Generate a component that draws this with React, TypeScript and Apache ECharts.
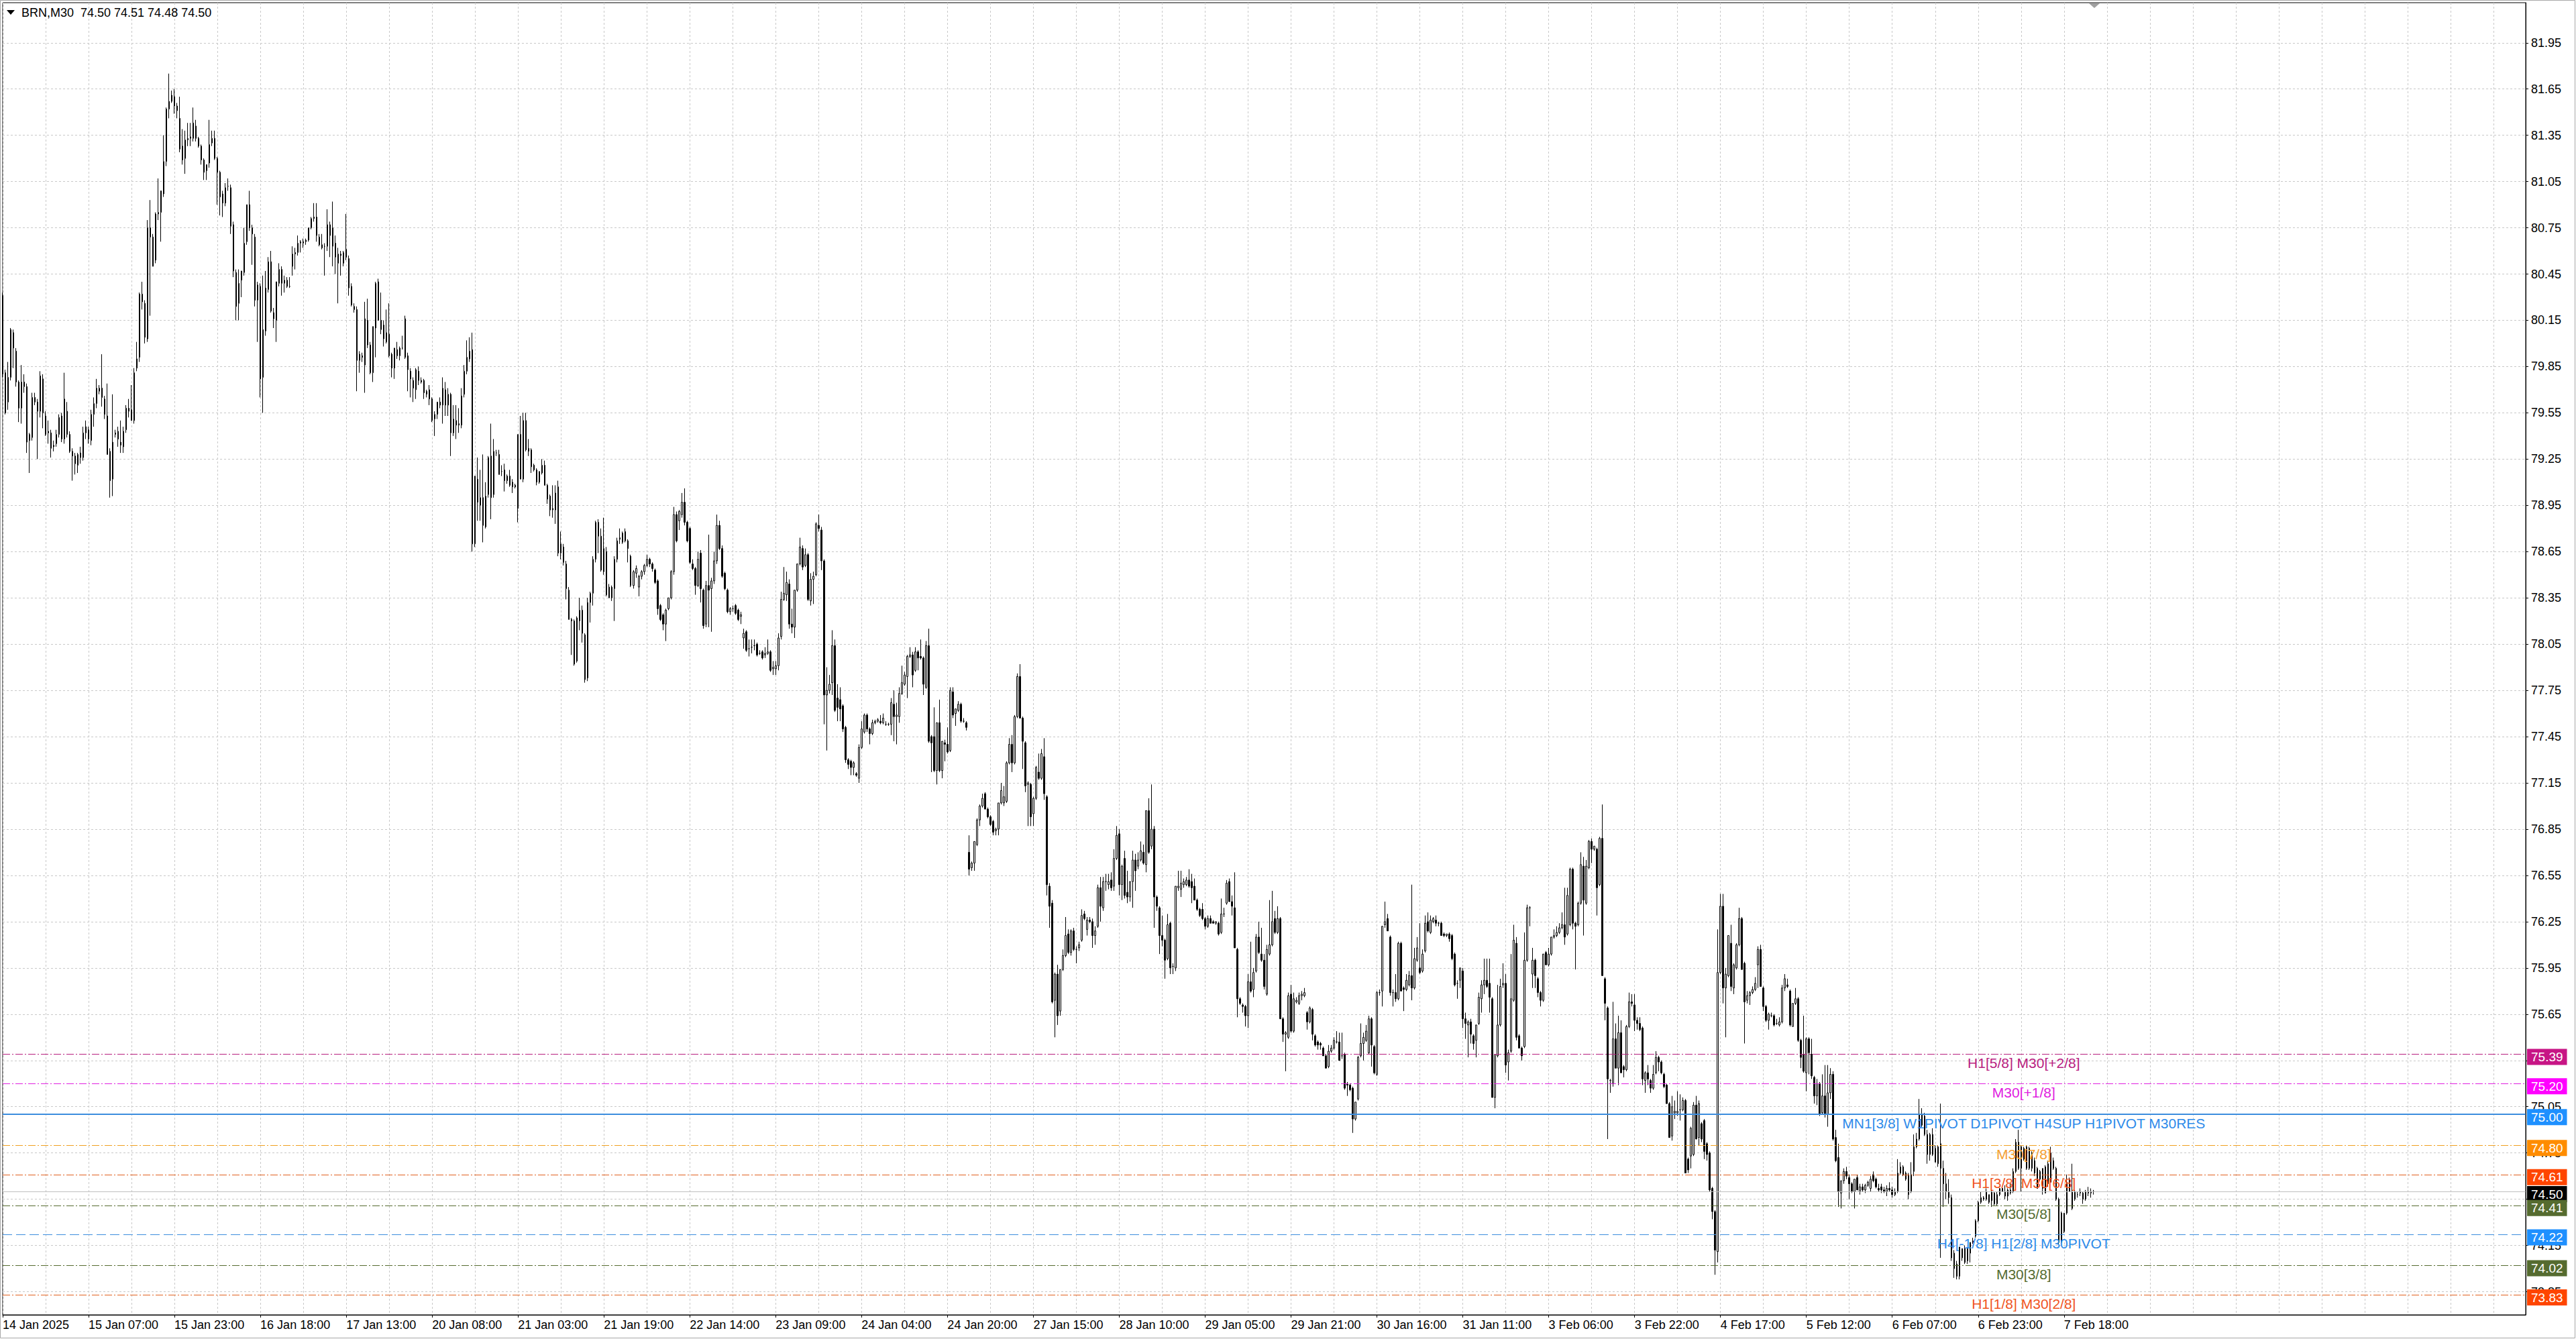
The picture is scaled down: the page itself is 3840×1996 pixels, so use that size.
import React, { useEffect, useRef } from 'react';
import * as echarts from 'echarts';

// ---------- data ----------
const symbolName = 'BRN,M30';

const timeLabels = ['14 Jan 2025', '15 Jan 07:00', '15 Jan 23:00', '16 Jan 18:00', '17 Jan 13:00', '20 Jan 08:00', '21 Jan 03:00', '21 Jan 19:00', '22 Jan 14:00', '23 Jan 09:00', '24 Jan 04:00', '24 Jan 20:00', '27 Jan 15:00', '28 Jan 10:00', '29 Jan 05:00', '29 Jan 21:00', '30 Jan 16:00', '31 Jan 11:00', '3 Feb 06:00', '3 Feb 22:00', '4 Feb 17:00', '5 Feb 12:00', '6 Feb 07:00', '6 Feb 23:00', '7 Feb 18:00'];
const BARS_PER_LABEL = 32;
const SLOT_COUNT = 941;

const priceTicks = [73.85, 74.15, 74.45, 74.75, 75.05, 75.35, 75.65, 75.95, 76.25, 76.55, 76.85, 77.15, 77.45, 77.75, 78.05, 78.35, 78.65, 78.95, 79.25, 79.55, 79.85, 80.15, 80.45, 80.75, 81.05, 81.35, 81.65, 81.95];

// [open, high, low, close] per 30-minute bar
const jan14to17 = [
[80.31,80.33,79.78,79.80],[79.81,79.83,79.54,79.55],[79.62,79.88,79.57,79.78],[79.78,80.10,79.76,80.09],[80.07,80.09,79.84,79.97],
[79.95,79.97,79.72,79.75],[79.75,79.76,79.49,79.58],[79.58,79.86,79.48,79.75],[79.75,79.80,79.68,79.72],[79.72,79.74,79.29,79.36],
[79.37,79.42,79.16,79.41],[79.39,79.68,79.37,79.65],[79.65,79.68,79.60,79.62],[79.62,79.64,79.25,79.56],[79.56,79.82,79.52,79.79],
[79.77,79.80,79.45,79.55],[79.53,79.56,79.40,79.41],[79.43,79.50,79.35,79.42],[79.42,79.44,79.26,79.32],[79.33,79.37,79.30,79.34],
[79.35,79.44,79.33,79.41],[79.41,79.54,79.39,79.52],[79.53,79.55,79.36,79.38],[79.38,79.81,79.35,79.64],[79.56,79.62,79.39,79.41],
[79.41,79.43,79.29,79.30],[79.30,79.32,79.11,79.27],[79.27,79.29,79.15,79.22],[79.21,79.29,79.16,79.28],[79.29,79.33,79.22,79.26],
[79.26,79.46,79.24,79.42],[79.42,79.50,79.38,79.46],[79.44,79.46,79.35,79.38],[79.37,79.57,79.34,79.54],[79.54,79.65,79.46,79.61],
[79.61,79.77,79.58,79.71],[79.69,79.73,79.67,79.71],[79.71,79.93,79.59,79.65],[79.64,79.66,79.51,79.54],[79.53,79.74,79.28,79.28],
[79.30,79.32,79.00,79.11],[79.12,79.67,79.01,79.36],[79.41,79.44,79.39,79.42],[79.43,79.46,79.33,79.38],[79.36,79.50,79.29,79.34],
[79.33,79.46,79.29,79.43],[79.44,79.60,79.42,79.58],[79.58,79.64,79.52,79.56],[79.57,79.73,79.50,79.50],[79.50,79.84,79.48,79.81],
[79.84,80.01,79.82,79.90],[79.91,80.33,79.88,80.32],[80.32,80.40,80.22,80.27],[80.26,80.28,80.00,80.04],[80.03,80.80,80.01,80.75],
[80.75,80.93,80.18,80.69],[80.69,80.71,80.50,80.50],[80.54,80.85,80.52,80.84],[80.84,81.07,80.80,80.85],[80.85,80.99,80.66,80.99],
[80.97,81.35,80.95,81.18],[81.18,81.53,81.15,81.52],[81.52,81.75,81.46,81.57],[81.57,81.64,81.56,81.61],[81.60,81.65,81.49,81.54],
[81.54,81.56,81.46,81.51],[81.46,81.60,81.24,81.26],[81.28,81.39,81.16,81.19],[81.20,81.38,81.10,81.32],[81.32,81.43,81.28,81.33],
[81.33,81.43,81.28,81.34],[81.33,81.53,81.31,81.43],[81.41,81.45,81.31,81.33],[81.33,81.34,81.27,81.28],[81.28,81.29,81.16,81.19],
[81.19,81.20,81.06,81.11],[81.12,81.16,81.06,81.16],[81.17,81.45,81.14,81.29],[81.30,81.38,81.28,81.33],[81.33,81.38,81.19,81.20],
[81.20,81.21,80.90,81.11],[81.11,81.12,80.83,80.95],[80.97,80.99,80.82,80.91],[80.91,81.04,80.89,81.01],[81.02,81.07,80.99,81.02],
[81.01,81.03,80.71,80.76],[80.77,80.79,80.43,80.47],[80.46,80.48,80.15,80.24],[80.26,80.48,80.15,80.39],[80.41,80.47,80.30,80.47],
[80.46,80.75,80.44,80.65],[80.66,80.90,80.64,80.90],[80.90,80.99,80.73,80.75],[80.75,80.77,80.51,80.71],[80.69,80.71,80.24,80.28],
[80.28,80.40,80.01,80.38],[80.37,80.39,79.65,79.77],[79.78,80.44,79.55,80.09],[80.08,80.47,80.05,80.36],[80.35,80.56,80.33,80.53],
[80.53,80.60,80.20,80.21],[80.20,80.23,80.10,80.16],[80.15,80.40,80.01,80.40],[80.39,80.52,80.37,80.48],[80.48,80.50,80.31,80.39],
[80.39,80.44,80.33,80.41],[80.41,80.43,80.36,80.37],[80.37,80.43,80.36,80.37],[80.50,80.63,80.44,80.58],[80.58,80.62,80.48,80.59],
[80.59,80.70,80.57,80.65],[80.65,80.67,80.59,80.66],[80.65,80.68,80.62,80.66],[80.66,80.68,80.64,80.67],[80.67,80.75,80.66,80.75],
[80.75,80.82,80.74,80.81],[80.81,80.91,80.79,80.82],[80.82,80.91,80.66,80.70],[80.69,80.71,80.63,80.64],[80.64,80.71,80.61,80.62],
[80.63,80.65,80.44,80.63],[80.63,80.87,80.60,80.77],[80.77,80.79,80.56,80.70],[80.63,80.92,80.50,80.75],[80.65,80.70,80.45,80.56],
[80.52,80.62,80.26,80.58],[80.58,80.60,80.44,80.57],[80.52,80.60,80.50,80.59],[80.61,80.84,80.54,80.56],[80.55,80.57,80.31,80.36],
[80.37,80.39,80.24,80.25],[80.24,80.26,80.20,80.22],[80.22,80.24,79.69,79.89],[79.89,79.95,79.81,79.93],[79.92,79.94,79.88,79.91],
[79.86,80.27,79.68,80.16],[80.15,80.29,79.97,79.99],[79.99,80.01,79.80,79.81],[79.81,80.11,79.75,80.11],[80.10,80.40,79.91,80.39],
[80.40,80.42,80.15,80.15],[80.15,80.33,80.06,80.09],[80.12,80.15,79.98,80.03],[80.01,80.22,80.00,80.07],[80.06,80.26,79.91,79.92],
[79.93,79.94,79.78,79.84],[79.84,79.97,79.77,79.97],[79.96,80.01,79.90,79.92],[79.92,79.98,79.89,79.97],[79.97,80.05,79.96,79.97]
];

const jan20to24 = [
[80.16,80.18,79.90,79.91],[79.92,79.94,79.69,79.83],[79.82,79.84,79.65,79.77],[79.76,79.78,79.62,79.71],[79.70,79.84,79.64,79.83],
[79.82,79.85,79.73,79.76],[79.76,79.78,79.74,79.75],[79.76,79.77,79.64,79.68],[79.67,79.70,79.65,79.69],[79.70,79.73,79.60,79.64],
[79.64,79.65,79.49,79.50],[79.51,79.56,79.40,79.54],[79.54,79.62,79.51,79.62],[79.62,79.65,79.58,79.60],[79.60,79.78,79.48,79.71],
[79.70,79.75,79.53,79.60],[79.67,79.71,79.53,79.60],[79.67,79.68,79.27,79.42],[79.42,79.60,79.40,79.51],[79.50,79.60,79.38,79.47],
[79.47,79.58,79.42,79.48],[79.47,79.71,79.45,79.66],[79.67,79.86,79.65,79.82],[79.82,80.02,79.80,79.91],[79.90,80.04,79.88,79.95],
[79.96,80.07,78.65,78.70],[78.70,79.14,78.68,79.14],[79.12,79.26,78.85,78.97],[78.95,79.18,78.85,79.00],[79.00,79.28,78.71,78.82],
[78.81,79.10,78.80,79.01],[79.02,79.27,79.00,79.26],[79.27,79.48,78.86,79.00],[79.02,79.38,79.00,79.30],[79.29,79.31,79.27,79.29],
[79.28,79.31,79.15,79.15],[79.17,79.21,79.14,79.17],[79.18,79.22,79.04,79.11],[79.11,79.15,79.09,79.14],[79.14,79.18,79.07,79.08],
[79.10,79.12,79.03,79.07],[79.08,79.09,79.06,79.07],[78.93,79.41,78.84,79.41],[79.41,79.53,79.12,79.12],[79.12,79.55,79.10,79.50],
[79.50,79.55,79.30,79.31],[79.30,79.38,79.27,79.32],[79.31,79.32,79.16,79.20],[79.21,79.22,79.17,79.18],[79.18,79.19,79.08,79.10],
[79.10,79.17,79.09,79.17],[79.16,79.25,79.15,79.21],[79.21,79.24,79.08,79.08],[79.08,79.09,78.96,78.99],[79.01,79.02,78.88,78.92],
[78.92,79.08,78.87,78.93],[78.92,79.08,78.83,79.03],[79.07,79.11,78.62,78.64],[78.64,78.78,78.60,78.70],[78.68,78.70,78.56,78.58],
[78.57,78.59,78.34,78.41],[78.40,78.42,78.21,78.21],[78.21,78.22,77.98,78.20],[78.20,78.21,77.91,77.92],[77.94,78.23,77.93,78.22],
[78.20,78.35,78.14,78.27],[78.27,78.30,78.06,78.12],[78.11,78.12,77.80,77.82],[77.83,78.35,77.81,78.32],[78.32,78.39,78.19,78.38],
[78.38,78.62,78.30,78.60],[78.60,78.85,78.58,78.84],[78.84,78.86,78.64,78.75],[78.75,78.80,78.52,78.53],[78.52,78.87,78.50,78.67],
[78.65,78.68,78.36,78.37],[78.42,78.44,78.35,78.35],[78.35,78.43,78.33,78.42],[78.41,78.62,78.20,78.60],[78.60,78.74,78.58,78.72],
[78.73,78.80,78.70,78.74],[78.71,78.78,78.70,78.77],[78.78,78.80,78.71,78.72],[78.72,78.73,78.58,78.67],[78.62,78.63,78.42,78.43],
[78.43,78.53,78.41,78.52],[78.51,78.56,78.48,78.54],[78.42,78.50,78.36,78.49],[78.49,78.53,78.47,78.52],[78.52,78.57,78.50,78.56],
[78.56,78.63,78.55,78.60],[78.60,78.61,78.55,78.57],[78.57,78.58,78.52,78.54],[78.53,78.54,78.44,78.45],[78.46,78.47,78.24,78.28],
[78.30,78.31,78.20,78.21],[78.24,78.25,78.14,78.18],[78.18,78.28,78.07,78.27],[78.28,78.35,78.27,78.35],[78.35,78.53,78.34,78.52],
[78.52,78.94,78.50,78.89],[78.89,78.91,78.71,78.72],[78.85,78.92,78.79,78.91],[78.89,79.03,78.87,78.97],[78.97,79.06,78.82,78.84],
[78.84,78.85,78.71,78.72],[78.80,78.81,78.57,78.58],[78.57,78.60,78.53,78.54],[78.54,78.55,78.37,78.43],[78.43,78.65,78.42,78.60],
[78.64,78.66,78.32,78.41],[78.40,78.41,78.15,78.17],[78.18,78.46,78.16,78.43],[78.43,78.76,78.16,78.40],[78.41,78.48,78.13,78.46],
[78.46,78.65,78.44,78.59],[78.59,78.89,78.57,78.82],[78.82,78.85,78.66,78.67],[78.67,78.69,78.48,78.49],[78.51,78.52,78.40,78.41],
[78.40,78.41,78.25,78.26],[78.26,78.29,78.24,78.28],[78.28,78.30,78.26,78.28],[78.30,78.31,78.24,78.25],[78.27,78.28,78.20,78.21],
[78.23,78.26,78.18,78.24],[78.09,78.15,78.02,78.12],[78.13,78.14,78.00,78.01],[78.02,78.08,77.97,78.02],[78.03,78.08,77.99,78.03],
[78.04,78.08,78.01,78.04],[78.05,78.06,77.97,77.98],[77.99,78.01,77.98,77.99],[78.00,78.01,77.95,77.96],[77.98,78.03,77.96,77.99],
[77.99,78.08,77.98,78.00],[78.00,78.01,77.87,77.88],[77.89,77.94,77.85,77.90],[77.89,77.94,77.85,77.91],[77.91,78.12,77.88,78.09],
[78.10,78.39,78.08,78.34],[78.34,78.55,78.33,78.38],[78.37,78.52,78.33,78.45],[78.44,78.47,78.15,78.18],[78.18,78.28,78.12,78.16],
[78.16,78.40,78.09,78.40],[78.40,78.57,78.39,78.57],[78.57,78.74,78.56,78.68],[78.67,78.69,78.53,78.55],[78.56,78.67,78.55,78.63],
[78.63,78.64,78.33,78.34],[78.33,78.51,78.30,78.47],[78.47,78.52,78.31,78.49],[78.50,78.84,78.49,78.83],[78.82,78.89,78.78,78.80],
[78.79,78.81,78.53,78.59],[78.59,78.60,77.53,77.72],[77.72,77.90,77.36,77.75],[77.75,77.85,77.73,77.79],[77.80,78.14,77.72,78.04],
[78.04,78.08,77.61,77.62],[77.70,77.79,77.55,77.64],[77.69,77.77,77.55,77.63],[77.65,77.66,77.48,77.50],[77.51,77.52,77.28,77.30],
[77.30,77.31,77.24,77.27],[77.29,77.30,77.20,77.25],[77.25,77.29,77.20,77.28],[77.21,77.22,77.19,77.20],[77.18,77.40,77.15,77.38],
[77.38,77.55,77.37,77.50],[77.48,77.60,77.47,77.59],[77.59,77.60,77.48,77.50],[77.50,77.51,77.40,77.47],[77.47,77.56,77.46,77.54],
[77.54,77.56,77.53,77.55],[77.55,77.57,77.54,77.56],[77.55,77.59,77.53,77.54],[77.54,77.60,77.53,77.57],[77.53,77.55,77.52,77.53],
[77.53,77.54,77.52,77.53],[77.53,77.70,77.46,77.67],[77.66,77.75,77.42,77.58],[77.58,77.67,77.40,77.59],[77.58,77.77,77.54,77.73],
[77.73,77.91,77.72,77.80],[77.79,77.87,77.78,77.85],[77.84,77.98,77.70,77.97],[77.97,78.03,77.96,77.98],[77.98,78.00,77.77,77.85],
[77.88,78.03,77.87,78.00],[78.00,78.01,77.88,77.96],[77.97,78.08,77.95,77.96],[77.96,77.97,77.72,77.79],[77.77,78.07,77.76,78.04],
[78.04,78.15,77.41,77.42],[77.45,77.46,77.22,77.41],[77.45,77.64,77.22,77.23],[77.23,77.54,77.14,77.54],[77.54,77.69,77.22,77.23],
[77.23,77.42,77.18,77.42],[77.41,77.43,77.29,77.40],[77.40,77.51,77.34,77.35],[77.36,77.77,77.35,77.75],[77.74,77.77,77.57,77.59],
[77.60,77.63,77.52,77.63],[77.62,77.68,77.61,77.66],[77.66,77.67,77.54,77.55],[77.55,77.57,77.54,77.55],[77.54,77.55,77.49,77.51]
];

const jan27to31 = [
[76.70,76.81,76.55,76.59],[76.60,76.64,76.58,76.63],[76.63,76.77,76.58,76.77],[76.75,76.92,76.74,76.91],[76.91,77.01,76.87,77.00],
[77.00,77.08,76.99,77.05],[77.08,77.09,76.98,76.98],[76.98,76.99,76.92,76.93],[76.93,76.94,76.87,76.88],[76.90,76.91,76.81,76.83],
[76.84,76.86,76.81,76.85],[76.85,77.02,76.81,77.02],[77.02,77.15,77.01,77.10],[77.02,77.13,77.00,77.06],[77.03,77.29,77.02,77.28],
[77.28,77.44,77.27,77.40],[77.40,77.46,77.22,77.28],[77.28,77.59,77.27,77.58],[77.58,77.86,77.57,77.84],[77.84,77.92,77.57,77.57],
[77.57,77.58,77.24,77.42],[77.41,77.42,77.09,77.13],[77.14,77.16,76.87,77.15],[77.14,77.15,76.87,76.93],[76.95,77.06,76.87,77.05],
[77.05,77.26,77.04,77.25],[77.22,77.34,77.17,77.18],[77.18,77.37,77.17,77.34],[77.32,77.44,77.04,77.08],[77.06,77.07,76.42,76.49],
[76.48,76.50,76.21,76.35],[76.37,76.39,75.72,75.73],[75.74,75.92,75.50,75.91],[75.91,75.97,75.58,75.64],[75.67,75.94,75.64,75.94],
[75.94,76.07,75.93,76.03],[76.03,76.28,76.02,76.16],[76.17,76.20,76.04,76.05],[76.05,76.20,76.03,76.19],[76.19,76.21,76.06,76.07],
[76.07,76.09,75.98,76.07],[76.08,76.12,76.06,76.10],[76.13,76.33,76.12,76.29],[76.30,76.32,76.26,76.27],[76.20,76.28,76.16,76.26],
[76.26,76.28,76.24,76.25],[76.25,76.27,76.08,76.16],[76.16,76.22,76.10,76.19],[76.22,76.49,76.21,76.47],[76.47,76.54,76.25,76.35],
[76.34,76.54,76.32,76.51],[76.51,76.56,76.45,76.51],[76.49,76.56,76.46,76.51],[76.52,76.57,76.45,76.47],[76.48,76.72,76.45,76.66],
[76.66,76.87,76.65,76.81],[76.82,76.85,76.42,76.49],[76.49,76.62,76.39,76.61],[76.66,76.71,76.40,76.42],[76.44,76.58,76.37,76.41],
[76.41,76.51,76.38,76.51],[76.51,76.71,76.34,76.65],[76.65,76.69,76.45,76.58],[76.61,76.70,76.59,76.65],[76.65,76.77,76.64,76.71],
[76.70,76.75,76.62,76.63],[76.62,76.97,76.57,76.97],[76.97,77.05,76.69,76.70],[76.74,77.14,76.72,76.85],[76.85,76.87,76.21,76.41],
[76.41,76.42,76.32,76.35],[76.34,76.35,76.04,76.16],[76.16,76.29,76.09,76.13],[76.13,76.14,75.88,76.00],[76.01,76.30,76.00,76.23],
[76.24,76.25,75.91,75.95],[75.96,75.98,75.91,75.96],[75.95,76.48,75.93,76.48],[76.47,76.58,76.45,76.48],[76.46,76.58,76.41,76.50],
[76.49,76.53,76.47,76.51],[76.49,76.54,76.48,76.52],[76.52,76.59,76.47,76.48],[76.51,76.56,76.37,76.47],[76.48,76.53,76.39,76.39],
[76.39,76.40,76.32,76.33],[76.33,76.34,76.28,76.29],[76.33,76.37,76.26,76.27],[76.27,76.28,76.20,76.22],[76.22,76.29,76.21,76.27],
[76.27,76.29,76.24,76.24],[76.25,76.26,76.24,76.24],[76.24,76.25,76.23,76.25],[76.24,76.25,76.16,76.17],[76.18,76.40,76.17,76.30],
[76.30,76.34,76.28,76.30],[76.37,76.52,76.36,76.50],[76.51,76.53,76.38,76.38],[76.38,76.42,76.29,76.35],[76.34,76.57,76.08,76.08],
[76.07,76.08,75.63,75.75],[75.75,75.76,75.71,75.72],[75.71,75.72,75.66,75.70],[75.70,75.71,75.57,75.64],[75.64,75.91,75.56,75.86],
[75.86,76.12,75.79,75.80],[75.81,75.95,75.76,75.92],[75.93,76.17,75.92,76.15],[76.15,76.25,76.04,76.05],[76.04,76.21,75.99,76.00],
[76.00,76.04,75.81,75.83],[75.78,76.10,75.77,76.07],[76.04,76.39,76.03,76.10],[76.10,76.45,76.09,76.25],[76.27,76.32,76.17,76.18],
[76.18,76.35,76.17,76.27],[76.27,76.28,75.62,75.62],[75.62,75.63,75.47,75.52],[75.52,75.54,75.28,75.53],[75.50,75.79,75.49,75.77],
[75.78,75.84,75.53,75.54],[75.54,75.79,75.53,75.75],[75.73,75.76,75.72,75.74],[75.72,75.79,75.71,75.77],[75.77,75.80,75.74,75.78],
[75.77,75.82,75.76,75.79],[75.66,75.67,75.55,75.60],[75.60,75.70,75.59,75.69],[75.68,75.69,75.48,75.52],[75.51,75.52,75.44,75.45],
[75.47,75.48,75.42,75.45],[75.46,75.47,75.42,75.45],[75.43,75.44,75.38,75.38],[75.38,75.39,75.30,75.30],[75.31,75.45,75.30,75.41],
[75.41,75.45,75.40,75.43],[75.43,75.50,75.42,75.48],[75.47,75.54,75.46,75.47],[75.47,75.53,75.35,75.35],[75.38,75.53,75.36,75.38],
[75.39,75.40,75.16,75.17],[75.20,75.21,75.12,75.19],[75.19,75.20,75.15,75.16],[75.17,75.18,74.88,74.97],[74.97,75.08,74.96,75.08],
[75.10,75.38,75.09,75.37],[75.38,75.59,75.37,75.46],[75.46,75.53,75.35,75.50],[75.48,75.58,75.47,75.54],[75.40,75.64,75.39,75.62],
[75.62,75.63,75.31,75.45],[75.44,75.45,75.26,75.27],[75.26,75.80,75.25,75.79],[75.79,75.81,75.77,75.79],[75.80,76.22,75.70,76.22],
[76.23,76.38,76.21,76.25],[76.27,76.30,76.19,76.19],[76.15,76.16,75.77,75.79],[75.79,75.81,75.70,75.79],[75.79,75.91,75.73,75.75],
[75.75,76.12,75.74,76.11],[76.11,76.12,75.80,75.80],[75.82,75.83,75.67,75.81],[75.81,75.91,75.80,75.87],[75.84,75.93,75.83,75.90],
[75.90,76.49,75.74,75.82],[75.82,76.08,75.81,76.01],[76.00,76.15,75.99,76.08],[75.95,76.24,75.91,75.92],[75.93,76.07,75.92,76.04],
[76.06,76.29,76.05,76.24],[76.25,76.31,76.18,76.19],[76.18,76.29,76.17,76.26],[76.25,76.28,76.24,76.27],[76.26,76.29,76.22,76.24],
[76.24,76.25,76.22,76.24],[76.24,76.25,76.16,76.16],[76.17,76.18,76.15,76.16],[76.16,76.17,76.15,76.17],[76.17,76.18,76.12,76.14],
[76.16,76.17,76.00,76.01],[76.04,76.05,75.83,75.84],[75.85,75.87,75.75,75.85],[75.87,75.95,75.82,75.95],[75.93,75.95,75.56,75.62],
[75.62,75.66,75.49,75.59],[75.58,75.61,75.37,75.60],[75.60,75.62,75.46,75.52],[75.51,75.52,75.42,75.46],[75.48,75.58,75.37,75.58],
[75.59,75.79,75.58,75.76],[75.75,75.87,75.66,75.84],[75.84,76.01,75.78,75.87],[75.87,76.01,75.82,75.83],[75.85,76.01,75.66,75.76],
[75.75,75.76,75.11,75.11],[75.11,75.39,75.04,75.39],[75.38,75.84,75.37,75.58],[75.58,75.88,75.57,75.83],[75.84,75.98,75.82,75.85],
[75.85,75.91,75.27,75.32],[75.34,75.42,75.22,75.40],[75.41,76.04,75.40,75.75],[75.74,76.23,75.73,76.13],[76.11,76.15,75.48,75.50],
[75.51,75.52,75.43,75.43],[75.43,75.44,75.35,75.38],[75.44,76.18,75.43,76.00],[76.00,76.36,75.99,76.34],[76.34,76.35,76.22,76.34]
];

const feb3to7 = [
[75.91,76.08,75.82,76.00],[76.00,76.01,75.82,75.90],[75.88,75.89,75.76,75.79],[75.79,75.80,75.70,75.74],[75.74,76.04,75.73,76.04],
[76.05,76.06,75.97,75.97],[75.97,76.08,75.96,76.04],[76.04,76.15,76.03,76.15],[76.15,76.20,76.14,76.16],[76.16,76.22,76.15,76.18],
[76.18,76.24,76.17,76.21],[76.21,76.31,76.20,76.23],[76.23,76.47,76.10,76.15],[76.17,76.47,76.16,76.42],[76.23,76.60,76.22,76.59],
[76.59,76.60,76.20,76.24],[76.24,76.25,75.94,76.22],[76.23,76.38,76.22,76.37],[76.37,76.70,76.36,76.62],[76.61,76.67,76.16,76.39],
[76.37,76.65,76.36,76.61],[76.60,76.78,76.59,76.77],[76.77,76.79,76.63,76.72],[76.72,76.74,76.71,76.74],[76.72,76.73,76.29,76.47],
[76.49,76.80,76.48,76.79],[76.79,77.01,75.90,75.90],[75.88,75.89,75.61,75.72],[75.69,75.70,74.84,75.23],[75.22,75.23,75.14,75.22],
[75.20,75.73,75.18,75.49],[75.49,75.59,75.30,75.30],[75.30,75.64,75.19,75.53],[75.53,75.61,75.27,75.27],[75.31,75.32,75.24,75.29],
[75.29,75.58,75.28,75.57],[75.57,75.79,75.56,75.73],[75.73,75.78,75.70,75.72],[75.71,75.78,75.54,75.61],[75.61,75.63,75.55,75.59],
[75.59,75.63,75.54,75.55],[75.56,75.57,75.19,75.23],[75.22,75.28,75.14,75.27],[75.27,75.32,75.19,75.23],[75.22,75.23,75.14,75.17],
[75.17,75.32,75.16,75.26],[75.27,75.41,75.26,75.37],[75.37,75.38,75.28,75.34],[75.34,75.35,75.26,75.27],[75.26,75.27,75.17,75.18],
[75.19,75.20,75.07,75.07],[75.07,75.08,74.85,74.85],[74.86,75.12,74.83,75.05],[75.01,75.09,74.97,75.02],[75.01,75.15,74.99,75.02],
[75.03,75.13,74.96,75.03],[75.03,75.11,75.02,75.09],[75.09,75.10,74.62,74.62],[74.71,74.72,74.62,74.64],[74.73,74.92,74.65,74.91],
[74.74,75.08,74.73,75.06],[75.06,75.12,74.84,74.84],[74.85,75.09,74.80,75.07],[74.94,74.95,74.82,74.84],[74.96,74.97,74.71,74.76],
[74.81,74.82,74.70,74.74],[74.75,74.76,74.50,74.51],[74.52,74.53,74.32,74.37],[74.37,74.38,73.96,74.12],[74.11,76.20,74.04,75.92],
[75.92,76.43,75.91,76.35],[76.35,76.43,75.72,75.82],[75.82,75.95,75.50,75.91],[75.90,76.16,75.89,76.16],[76.11,76.23,75.80,75.83],
[75.82,75.98,75.78,75.97],[75.95,76.11,75.94,76.10],[76.10,76.34,76.09,76.27],[76.27,76.28,75.94,75.94],[75.98,75.99,75.46,75.73],
[75.74,75.80,75.72,75.77],[75.77,75.80,75.71,75.79],[75.79,75.83,75.78,75.81],[75.81,75.89,75.80,75.85],[75.97,76.09,75.82,76.07],
[76.07,76.10,75.83,75.83],[75.82,75.83,75.67,75.70],[75.70,75.71,75.60,75.61],[75.61,75.66,75.55,75.65],[75.64,75.66,75.63,75.64],
[75.64,75.65,75.57,75.58],[75.59,75.62,75.58,75.59],[75.58,75.63,75.57,75.60],[75.60,75.84,75.59,75.82],[75.82,75.91,75.80,75.88],
[75.84,75.88,75.82,75.83],[75.80,75.81,75.57,75.58],[75.57,75.72,75.57,75.72],[75.72,75.82,75.71,75.75],[75.75,75.76,75.47,75.48],
[75.48,75.49,75.30,75.37],[75.39,75.64,75.27,75.28],[75.27,75.50,75.15,75.49],[75.49,75.50,75.26,75.40],[75.39,75.49,75.23,75.25],
[75.24,75.25,75.07,75.12],[75.12,75.23,75.06,75.20],[75.20,75.21,74.99,75.00],[75.01,75.26,75.00,75.12],[75.12,75.32,74.98,75.00],
[75.00,75.32,74.92,75.14],[75.14,75.30,75.10,75.26],[75.26,75.28,74.83,74.84],[74.85,74.90,74.69,74.70],[74.72,74.81,74.40,74.50],
[74.49,74.57,74.39,74.57],[74.57,74.65,74.55,74.63],[74.63,74.66,74.58,74.60],[74.59,74.61,74.45,74.55],[74.55,74.56,74.49,74.50],
[74.50,74.58,74.39,74.58],[74.59,74.61,74.51,74.51],[74.50,74.55,74.48,74.53],[74.53,74.55,74.50,74.51],[74.51,74.55,74.49,74.54],
[74.54,74.57,74.53,74.56],[74.52,74.60,74.50,74.58],[74.61,74.63,74.56,74.57],[74.58,74.59,74.52,74.53],[74.52,74.55,74.50,74.51],
[74.53,74.55,74.49,74.51],[74.51,74.53,74.49,74.50],[74.50,74.54,74.47,74.52],[74.52,74.56,74.50,74.51],[74.51,74.53,74.46,74.48],
[74.48,74.52,74.47,74.50],[74.50,74.71,74.49,74.62],[74.62,74.69,74.61,74.66],[74.66,74.67,74.60,74.61],[74.62,74.63,74.57,74.58],
[74.61,74.62,74.45,74.48],[74.50,74.69,74.49,74.61],[74.63,74.87,74.60,74.79],[74.79,74.88,74.78,74.84],[74.84,75.10,74.83,75.00],
[75.00,75.04,74.92,74.93],[74.87,75.01,74.86,74.99],[74.87,74.90,74.68,74.74],[74.74,74.88,74.70,74.87],[74.87,74.91,74.73,74.74],
[74.78,74.80,74.69,74.69],[74.68,74.80,74.66,74.79],[74.81,75.07,74.07,74.65],[74.65,74.70,74.40,74.55],[74.55,74.62,74.45,74.50],
[74.50,74.58,74.42,74.46],[74.46,74.48,74.05,74.07],[74.10,74.12,73.94,74.00],[74.03,74.05,73.93,73.95],[73.95,74.14,73.93,74.14],
[74.07,74.13,74.05,74.13],[74.13,74.15,74.03,74.04],[74.05,74.14,74.03,74.13],[74.10,74.17,74.04,74.17],[74.17,74.20,74.16,74.18],
[74.21,74.32,74.20,74.31],[74.31,74.44,74.30,74.43],[74.43,74.50,74.42,74.46],[74.45,74.47,74.44,74.46],[74.50,74.52,74.44,74.45],
[74.43,74.48,74.42,74.48],[74.44,74.51,74.40,74.50],[74.49,74.50,74.41,74.42],[74.42,74.50,74.41,74.48],[74.48,74.52,74.47,74.52],
[74.52,74.53,74.50,74.50],[74.50,74.54,74.45,74.47],[74.47,74.52,74.44,74.51],[74.51,74.55,74.48,74.49],[74.50,74.65,74.49,74.63],
[74.63,74.84,74.62,74.82],[74.82,74.90,74.64,74.65],[74.65,74.80,74.50,74.79],[74.78,74.79,74.70,74.71],[74.79,74.80,74.64,74.65],
[74.65,74.79,74.64,74.78],[74.65,74.76,74.63,74.75],[74.70,74.72,74.60,74.62],[74.65,74.66,74.52,74.52],[74.63,74.64,74.57,74.58],
[74.52,74.65,74.48,74.65],[74.66,74.67,74.49,74.49],[74.55,74.70,74.53,74.68],[74.75,74.79,74.56,74.56],[74.70,74.72,74.64,74.65],
[74.65,74.66,74.44,74.45],[74.45,74.46,74.16,74.17],[74.36,74.37,74.17,74.17],[74.24,74.36,74.23,74.36],[74.36,74.61,74.35,74.56],
[74.58,74.59,74.50,74.50],[74.39,74.68,74.38,74.50],[74.45,74.51,74.44,74.50],[74.48,74.50,74.46,74.48],[74.49,74.52,74.47,74.50],
[74.49,74.50,74.42,74.45],[74.45,74.51,74.44,74.50],[74.50,74.53,74.47,74.49],[74.49,74.52,74.46,74.50],[74.50,74.51,74.48,74.50]
];

// horizontal levels (price, caption)
const levelPrices = [75.39, 75.20, 75.00, 74.80, 74.61, 74.50, 74.41, 74.22, 74.02, 73.83];
const levelCaptions = ['H1[5/8] M30[+2/8]', 'M30[+1/8]', 'MN1[3/8] W1PIVOT D1PIVOT H4SUP H1PIVOT M30RES', 'M30[7/8]', 'H1[3/8] M30[6/8]', '', 'M30[5/8]', 'H4[-1/8] H1[2/8] M30PIVOT', 'M30[3/8]', 'H1[1/8] M30[2/8]'];
const CAPTION_BAR = 753;

// ---------- styles ----------
const FONT = '"Liberation Sans", Arial, sans-serif';
const DASHDOT = [11, 3, 2, 3];
const levelLineColors = ['#B8207F', '#E020E0', '#3C8DDE', '#F0A020', '#E0601E', '#C0C0C0', '#556B2F', '#3C8DDE', '#556B2F', '#E0601E'];
const levelBoxColors = ['#C71585', '#FF00FF', '#1E90FF', '#FF8C00', '#FF4500', '#000000', '#556B2F', '#1E90FF', '#556B2F', '#FF4500'];
const levelTextColors = ['#B8207F', '#E020E0', '#2E8BEA', '#F5A030', '#F0541E', '#000000', '#556B2F', '#2E8BEA', '#556B2F', '#F0541E'];
const levelDash: any[] = [DASHDOT, DASHDOT, 'solid', DASHDOT, DASHDOT, 'solid', DASHDOT, [14, 6], DASHDOT, DASHDOT];
const levelWidths = [1, 1, 2, 1, 1, 1, 1, 1, 1, 1];

function buildOption() {
  const bars = [...jan14to17, ...jan20to24, ...jan27to31, ...feb3to7];
  const candleData = bars.map(([o, h, l, c]) => [o, c, l, h]);
  const categories = Array.from({ length: SLOT_COUNT }, (_, i) => String(i));
  const last = bars[bars.length - 1];
  const header = `${symbolName}  ${last.map((v) => v.toFixed(2)).join(' ')}`;
  const showLabel = (i: number) => i % BARS_PER_LABEL === 0 && i / BARS_PER_LABEL < timeLabels.length;

  const markLineData = levelPrices.map((p, k) => ({
    yAxis: p,
    lineStyle: { color: levelLineColors[k], type: levelDash[k], width: levelWidths[k] },
    label: {
      show: true,
      position: 'end',
      formatter: p.toFixed(2),
      color: '#ffffff',
      backgroundColor: levelBoxColors[k],
      padding: [3, 6, 2, 6],
      fontSize: 19,
      fontFamily: FONT,
      distance: 2,
      offset: [0, 4],
    },
  }));

  const markPointData = levelPrices
    .map((p, k) => ({ p, k }))
    .filter(({ k }) => levelCaptions[k] !== '')
    .map(({ p, k }) => ({
      coord: [CAPTION_BAR, p],
      symbol: 'rect',
      symbolSize: 1,
      itemStyle: { color: 'rgba(0,0,0,0)' },
      label: {
        show: true,
        position: 'bottom',
        distance: 2,
        formatter: levelCaptions[k],
        color: levelTextColors[k],
        fontSize: 21,
        fontFamily: FONT,
      },
    }));

  return {
    animation: false,
    backgroundColor: '#ffffff',
    textStyle: { fontFamily: FONT },
    grid: { left: 4, right: 75, top: 4, bottom: 36, show: true, borderColor: '#000000', borderWidth: 1, backgroundColor: 'transparent' },
    xAxis: {
      type: 'category',
      data: categories,
      boundaryGap: false,
      axisLine: { show: true, lineStyle: { color: '#000000', width: 1 } },
      axisTick: { show: true, interval: (i: number) => showLabel(i), length: 4, lineStyle: { color: '#000000' } },
      axisLabel: {
        interval: (i: number) => showLabel(i),
        formatter: (_v: string, i: number) => (showLabel(i) ? timeLabels[i / BARS_PER_LABEL] : ''),
        align: 'left',
        margin: 6,
        color: '#000000',
        fontSize: 18,
        fontFamily: FONT,
      },
      splitLine: { show: true, interval: 15, lineStyle: { color: '#C8C8C8', type: [3, 3], width: 1 } },
    },
    yAxis: {
      type: 'value',
      position: 'right',
      min: 73.70,
      max: 82.21,
      axisLine: { show: true, lineStyle: { color: '#000000' } },
      axisTick: { show: true, length: 4, customValues: priceTicks, lineStyle: { color: '#000000' } },
      axisLabel: {
        customValues: priceTicks,
        formatter: (v: number) => v.toFixed(2),
        color: '#000000',
        fontSize: 18,
        fontFamily: FONT,
        margin: 8,
      },
      splitLine: { show: true, lineStyle: { color: '#C8C8C8', type: [3, 3], width: 1 } },
    },
    series: [
      {
        type: 'candlestick',
        data: candleData,
        barWidth: 2,
        large: false,
        progressive: 0,
        clip: true,
        itemStyle: { color: '#ffffff', color0: '#000000', borderColor: '#000000', borderColor0: '#000000', borderWidth: 1 },
        emphasis: { disabled: true },
        markLine: { symbol: ['none', 'none'], silent: true, animation: false, data: markLineData, z: 5 },
        markPoint: { silent: true, animation: false, data: markPointData },
      },
    ],
    graphic: [
      { type: 'rect', silent: true, z: 100, shape: { x: 0.5, y: 0.5, width: 3838, height: 1994 }, style: { fill: 'none', stroke: '#A8A8A8', lineWidth: 1 } },
      { type: 'polygon', silent: true, z: 100, shape: { points: [[10, 15], [22, 15], [16, 22]] }, style: { fill: '#000000' } },
      { type: 'text', silent: true, z: 100, x: 32, y: 19, style: { text: header, fontSize: 18, fontFamily: FONT, fill: '#000000', verticalAlign: 'middle' } },
      { type: 'polygon', silent: true, z: 100, shape: { points: [[3114, 5], [3130, 5], [3122, 12]] }, style: { fill: '#A0A0A0' } },
    ],
  };
}

export default function App() {
  const ref = useRef<HTMLDivElement>(null);
  useEffect(() => {
    document.body.style.margin = '0';
    document.body.style.background = '#ffffff';
    const chart = echarts.init(ref.current as HTMLDivElement, null, { renderer: 'svg', width: 3840, height: 1996 });
    chart.setOption(buildOption() as any);
    return () => chart.dispose();
  }, []);
  return <div ref={ref} style={{ width: 3840, height: 1996, overflow: 'hidden' }} />;
}
